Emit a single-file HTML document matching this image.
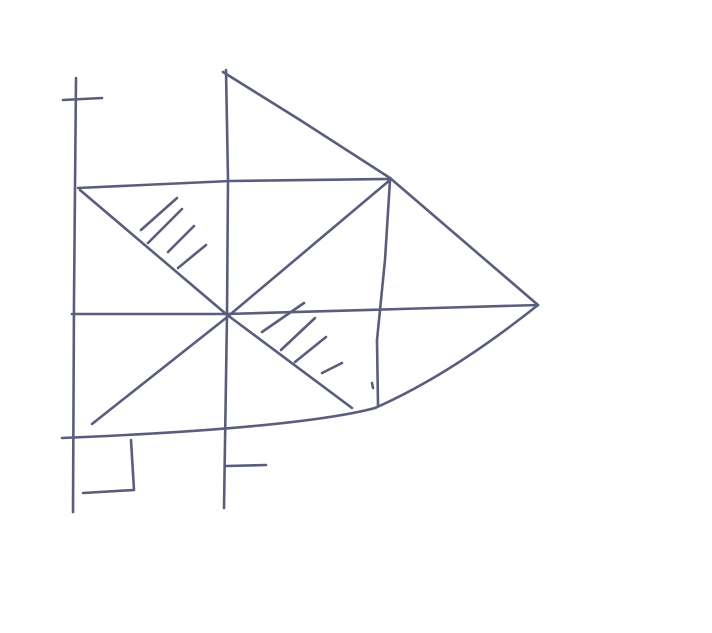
<!DOCTYPE html>
<html><head><meta charset="utf-8"><style>
html,body{margin:0;padding:0;background:#fff;width:712px;height:633px;overflow:hidden}
svg{display:block}
</style></head><body>
<svg width="712" height="633" viewBox="0 0 712 633" fill="none" stroke="#5a5e7c" stroke-width="2.6" stroke-linecap="round" stroke-linejoin="round">
<g>
<path d="M76 78 L74 300 L73 512"/>
<path d="M63 100 L102 98"/>
<path d="M226 70 L228 180 L227 315 L224 508"/>
<path d="M223 72 L300 120 L390 178"/>
<path d="M78 188 L230 181 L390 179"/>
<path d="M72 314 L226 314 L400 309 L538 305"/>
<path d="M390 178 L538 305"/>
<path d="M538 305 Q450 375 375 408"/>
<path d="M390 180 L385 260 L377 340 L378 405"/>
<path d="M62 438 Q300 428 375 408"/>
<path d="M80 190 L226 314 L352 408"/>
<path d="M92 424 L226 318 L390 180"/>
<path d="M141 230 L177 198 M148 243 L182 209 M168 252 L194 226 M178 268 L206 245"/>
<path d="M262 332 L304 303 M281 350 L315 318 M295 362 L326 337 M322 373 L342 363"/>
<path d="M131 440 L134 490 L83 493"/>
<path d="M226 466 L266 465"/>
<path d="M372 383 L373 388"/>
</g>
</svg>
</body></html>
